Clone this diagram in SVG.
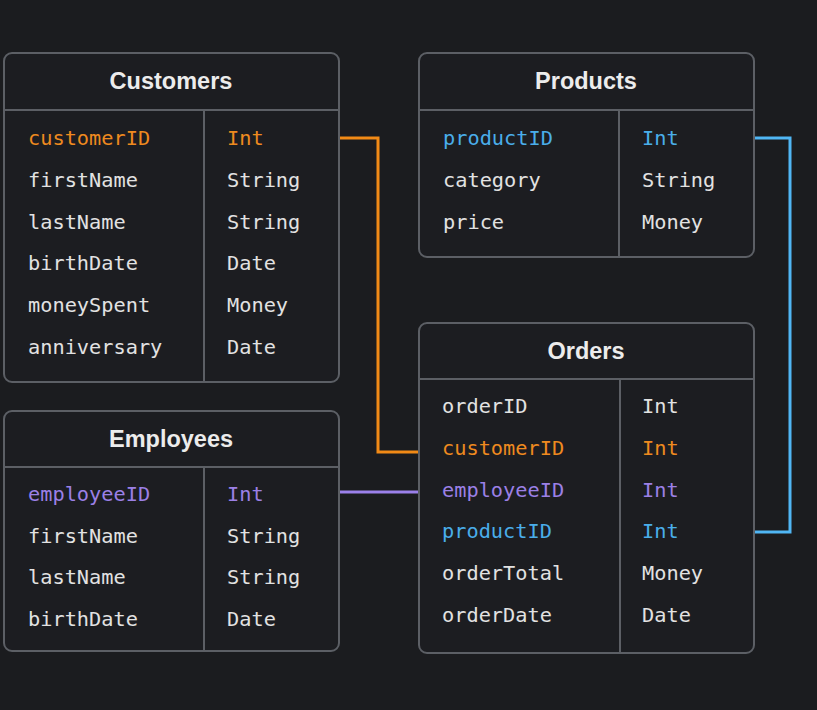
<svg xmlns="http://www.w3.org/2000/svg" width="817" height="710" viewBox="0 0 817 710">
<style>
.box{fill:#1c1d21;stroke:#5c5f65;stroke-width:2}
.div{stroke:#5c5f65;stroke-width:2;fill:none}
.title{font-family:"Liberation Sans",Arial,sans-serif;font-weight:bold;font-size:23.5px;fill:#ececec;text-anchor:middle}
.f{font-family:"DejaVu Sans Mono","Liberation Mono",monospace;font-size:20.3px;fill:#e2e2e2}
.o{fill:#ee8a1f}
.p{fill:#9b80e6}
.b{fill:#4aaeea}
.conn{fill:none;stroke-width:3}
</style>
<rect width="817" height="710" fill="#1b1c1f"/>
<g id="connectors">
<polyline class="conn" stroke="#f28a16" points="340,138 378,138 378,452 419,452"/>
<polyline class="conn" stroke="#9b80ea" points="340,492 419,492"/>
<polyline class="conn" stroke="#50b6f4" points="755,138 790,138 790,532 755,532"/>
</g>
<g id="customers">
<rect class="box" x="4" y="53" width="335" height="329" rx="8"/>
<line class="div" x1="4" y1="110" x2="339" y2="110"/>
<line class="div" x1="204" y1="110" x2="204" y2="382"/>
<text class="title" x="171" y="89">Customers</text>
<text class="f o" x="28" y="145">customerID</text><text class="f o" x="227" y="145">Int</text>
<text class="f" x="28" y="187">firstName</text><text class="f" x="227" y="187">String</text>
<text class="f" x="28" y="229">lastName</text><text class="f" x="227" y="229">String</text>
<text class="f" x="28" y="270">birthDate</text><text class="f" x="227" y="270">Date</text>
<text class="f" x="28" y="312">moneySpent</text><text class="f" x="227" y="312">Money</text>
<text class="f" x="28" y="354">anniversary</text><text class="f" x="227" y="354">Date</text>
</g>
<g id="products">
<rect class="box" x="419" y="53" width="335" height="204" rx="8"/>
<line class="div" x1="419" y1="110" x2="754" y2="110"/>
<line class="div" x1="619" y1="110" x2="619" y2="257"/>
<text class="title" x="586" y="89">Products</text>
<text class="f b" x="443" y="145">productID</text><text class="f b" x="642" y="145">Int</text>
<text class="f" x="443" y="187">category</text><text class="f" x="642" y="187">String</text>
<text class="f" x="443" y="229">price</text><text class="f" x="642" y="229">Money</text>
</g>
<g id="employees">
<rect class="box" x="4" y="411" width="335" height="240" rx="8"/>
<line class="div" x1="4" y1="467" x2="339" y2="467"/>
<line class="div" x1="204" y1="467" x2="204" y2="651"/>
<text class="title" x="171" y="447">Employees</text>
<text class="f p" x="28" y="501">employeeID</text><text class="f p" x="227" y="501">Int</text>
<text class="f" x="28" y="543">firstName</text><text class="f" x="227" y="543">String</text>
<text class="f" x="28" y="584">lastName</text><text class="f" x="227" y="584">String</text>
<text class="f" x="28" y="626">birthDate</text><text class="f" x="227" y="626">Date</text>
</g>
<g id="orders">
<rect class="box" x="419" y="323" width="335" height="330" rx="8"/>
<line class="div" x1="419" y1="379" x2="754" y2="379"/>
<line class="div" x1="620" y1="379" x2="620" y2="653"/>
<text class="title" x="586" y="359">Orders</text>
<text class="f" x="442" y="413">orderID</text><text class="f" x="642" y="413">Int</text>
<text class="f o" x="442" y="455">customerID</text><text class="f o" x="642" y="455">Int</text>
<text class="f p" x="442" y="497">employeeID</text><text class="f p" x="642" y="497">Int</text>
<text class="f b" x="442" y="538">productID</text><text class="f b" x="642" y="538">Int</text>
<text class="f" x="442" y="580">orderTotal</text><text class="f" x="642" y="580">Money</text>
<text class="f" x="442" y="622">orderDate</text><text class="f" x="642" y="622">Date</text>
</g>
</svg>
